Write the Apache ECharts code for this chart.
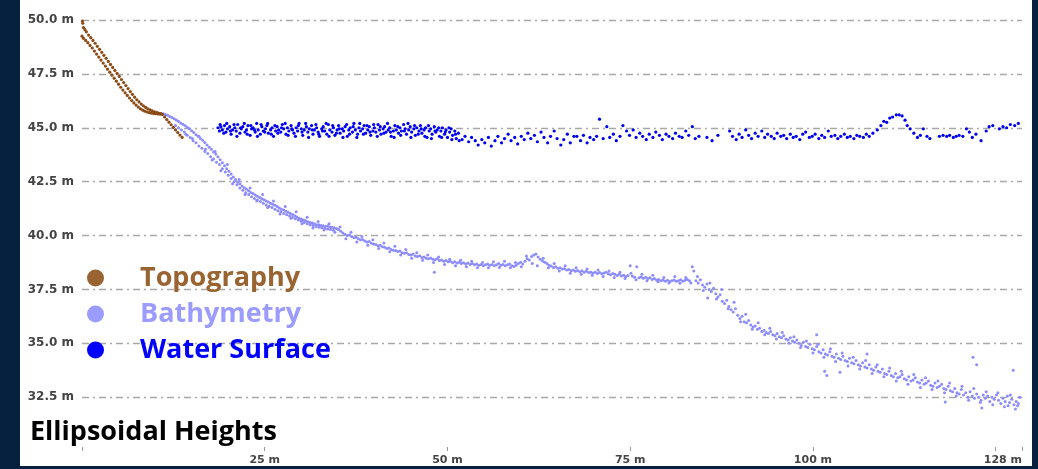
<!DOCTYPE html>
<html>
<head>
<meta charset="utf-8">
<title>Ellipsoidal Heights</title>
<script src="https://cdn.jsdelivr.net/npm/echarts@6/dist/echarts.min.js"></script>
<style>
  html, body { margin: 0; padding: 0; background: #05213f; width: 1038px; height: 469px; overflow: hidden; }
  #chartHeights { position: absolute; left: 20px; top: 0px; width: 1012px; height: 466px; background: #fff; }
</style>
</head>
<body>
<div id="chartHeights"></div>
<script>
// y ticks (m), x axis end (m)
var yTicks = [30, 32.5, 35, 37.5, 40, 42.5, 45, 47.5, 50]
var xEnd = 128.6

// topography, two passes down the bank + short tail
var topoA = [[0.05,49.95],[0.1,49.85],[0.2,49.65],[0.4,49.55],[0.6,49.45],[0.9,49.3],[1.2,49.18],[1.5,49.05],[1.8,48.92],[2.1,48.78],[2.4,48.64],[2.7,48.5],[3.0,48.36],[3.3,48.22],[3.6,48.08],[3.9,47.94],[4.2,47.8],[4.5,47.66],[4.8,47.52],[5.1,47.38],[5.4,47.24],[5.7,47.1],[6.0,46.96],[6.3,46.82],[6.6,46.68],[6.9,46.55],[7.2,46.42],[7.5,46.3],[7.8,46.2],[8.1,46.1],[8.4,46.02],[8.7,45.95],[9.0,45.88],[9.3,45.83],[9.6,45.78],[9.9,45.74],[10.2,45.71],[10.5,45.68],[10.8,45.66]]
var topoB = [[0.0,49.25],[0.2,49.15],[0.5,49.05],[0.8,48.95],[1.1,48.82],[1.4,48.7],[1.7,48.56],[2.0,48.42],[2.3,48.28],[2.6,48.14],[2.9,48.0],[3.2,47.86],[3.5,47.72],[3.8,47.58],[4.1,47.44],[4.4,47.3],[4.7,47.16],[5.0,47.02],[5.3,46.88],[5.6,46.75],[5.9,46.62],[6.2,46.5],[6.5,46.38],[6.8,46.26],[7.1,46.15],[7.4,46.05],[7.7,45.96],[8.0,45.88],[8.3,45.82],[8.6,45.77],[8.9,45.73],[9.2,45.7],[9.5,45.68],[9.8,45.66],[10.1,45.65],[10.4,45.64],[10.7,45.63],[11.0,45.62]]
var topoTail = [[11.3,45.5],[11.6,45.38],[11.9,45.26],[12.2,45.14],[12.5,45.02],[12.8,44.9],[13.1,44.78],[13.4,44.66],[13.7,44.55]]

// bathymetry
var bathyTrack1 = [[11.1,45.65],[11.4,45.62],[11.7,45.58],[12.0,45.52],[12.3,45.48],[12.6,45.42],[12.9,45.36],[13.2,45.3],[13.5,45.22],[13.8,45.16],[14.1,45.1],[14.4,45.02],[14.7,44.95],[15.0,44.86],[15.3,44.78],[15.6,44.68],[15.9,44.6],[16.2,44.5],[16.5,44.42],[16.8,44.32],[17.1,44.2],[17.4,44.1],[17.7,44.0],[18.0,43.88],[18.3,43.78],[18.6,43.66],[18.9,43.52],[19.2,43.38],[19.5,43.24],[19.8,43.1],[20.1,42.98],[20.4,42.85],[20.7,42.72],[21.0,42.6],[21.3,42.48],[21.6,42.4],[21.9,42.3],[22.2,42.22],[22.5,42.15],[22.8,42.08],[23.1,42.0],[23.4,41.95],[23.7,41.88],[24.0,41.82],[24.3,41.76],[24.6,41.7],[24.9,41.66],[25.2,41.6],[25.5,41.55],[25.8,41.5],[26.1,41.45],[26.4,41.4],[26.7,41.34],[27.0,41.28],[27.3,41.22],[27.6,41.18],[27.9,41.12],[28.2,41.08],[28.5,41.02],[28.8,40.98],[29.1,40.92],[29.4,40.86],[29.7,40.8],[30.0,40.76],[30.3,40.72],[30.6,40.68],[30.9,40.64],[31.2,40.6],[31.5,40.58],[31.8,40.54],[32.1,40.5],[32.4,40.5],[32.7,40.46],[33.0,40.45],[33.3,40.42],[33.6,40.44],[33.9,40.4],[34.2,40.38],[34.5,40.36],[34.8,40.32]]
var bathyTrack2 = [[12.8,45.1],[13.2,45.0],[13.6,44.9],[14.0,44.8],[14.4,44.65],[14.8,44.55],[15.2,44.4],[15.6,44.3],[16.0,44.15],[16.4,44.05],[16.8,43.9],[17.2,43.8],[17.6,43.65],[18.0,43.55],[18.4,43.4],[18.8,43.3],[19.2,43.1],[19.6,42.95],[20.0,42.8],[20.4,42.65],[20.8,42.5],[21.2,42.35],[21.6,42.2],[22.0,42.1],[22.4,41.98],[22.8,41.9],[23.2,41.8],[23.6,41.72],[24.0,41.65],[24.4,41.58],[24.8,41.5],[25.2,41.42],[25.6,41.36],[26.0,41.3],[26.4,41.22],[26.8,41.15],[27.2,41.1],[27.6,41.02],[28.0,40.96],[28.4,40.9],[28.8,40.84],[29.2,40.78],[29.6,40.72],[30.0,40.66],[30.4,40.6],[30.8,40.55],[31.2,40.5],[31.6,40.46],[32.0,40.42],[32.4,40.38],[32.8,40.36],[33.2,40.32],[33.6,40.3],[34.0,40.28],[34.4,40.24]]
var bathyMid = [[35.1,40.28],[35.4,40.2],[35.7,40.12],[36.0,40.05],[36.3,40.0],[36.6,40.02],[36.9,39.95],[37.2,39.9],[37.5,39.92],[37.8,39.85],[38.1,39.8],[38.4,39.82],[38.7,39.74],[39.0,39.7],[39.3,39.72],[39.6,39.64],[39.9,39.6],[40.2,39.58],[40.5,39.52],[40.8,39.55],[41.1,39.48],[41.4,39.45],[41.7,39.4],[42.0,39.42],[42.3,39.35],[42.6,39.32],[42.9,39.3],[43.2,39.26],[43.5,39.28],[43.8,39.2],[44.1,39.18],[44.4,39.2],[44.7,39.12],[45.0,39.1],[45.3,39.14],[45.6,39.05],[45.9,39.02],[46.2,39.06],[46.5,38.98],[46.8,39.0],[47.1,38.95],[47.4,38.92],[47.7,38.96],[48.0,38.9],[48.3,38.88],[48.6,38.92],[48.9,38.84],[49.2,38.86],[49.5,38.8],[49.8,38.84],[50.1,38.78],[50.4,38.8],[50.7,38.74],[51.0,38.78],[51.3,38.72],[51.6,38.76],[51.9,38.7],[52.2,38.74],[52.5,38.68],[52.8,38.72],[53.1,38.66],[53.4,38.7],[53.7,38.64],[54.0,38.68],[54.3,38.62],[54.6,38.66],[54.9,38.6],[55.2,38.64],[55.5,38.68],[55.8,38.62],[56.1,38.66],[56.4,38.6],[56.7,38.64],[57.0,38.7],[57.3,38.62],[57.6,38.66],[57.9,38.6],[58.2,38.64],[58.5,38.68],[58.8,38.6],[59.1,38.56],[59.4,38.62],[59.7,38.7],[60.0,38.76],[60.3,38.68],[60.6,38.8],[60.9,38.92],[61.2,38.86],[61.5,39.02],[61.8,39.1],[62.1,39.14],[62.4,39.0],[62.7,38.9],[63.0,38.82],[63.3,38.76],[63.6,38.7],[63.9,38.62],[64.2,38.58],[64.5,38.52],[64.8,38.55],[65.1,38.48],[65.4,38.5],[65.7,38.44],[66.0,38.46],[66.3,38.4],[66.6,38.42],[66.9,38.36],[67.2,38.4],[67.5,38.34],[67.8,38.38],[68.1,38.32],[68.4,38.36],[68.7,38.3],[69.0,38.34],[69.3,38.28],[69.6,38.3],[69.9,38.26],[70.2,38.3],[70.5,38.24],[70.8,38.28],[71.1,38.22],[71.4,38.26],[71.7,38.3],[72.0,38.22],[72.3,38.18],[72.6,38.24],[72.9,38.2],[73.2,38.14],[73.5,38.2],[73.8,38.12],[74.1,38.16],[74.4,38.1],[74.7,38.14],[75.0,38.6],[75.3,38.12],[75.6,38.06],[75.9,38.55],[76.2,38.04],[76.5,38.08],[76.8,38.02],[77.1,38.06],[77.4,38.0],[77.7,38.04],[78.0,37.96],[78.3,38.0],[78.6,37.93],[78.9,37.96],[79.2,37.9],[79.5,37.94],[79.8,37.88],[80.1,37.92],[80.4,37.86],[80.7,37.9],[81.0,37.94],[81.3,37.88],[81.6,37.9],[81.9,37.95],[82.2,37.88],[82.5,37.92],[82.8,37.96],[83.1,37.9]]
var bathyDrop = [[83.5,38.55],[83.7,38.35],[84.0,37.9],[84.3,37.8],[84.6,37.95],[84.9,37.7],[85.2,37.6],[85.5,37.75],[85.8,37.5],[86.1,37.4],[86.4,37.55],[86.7,37.3],[87.0,37.15],[87.3,37.25],[87.6,36.95],[87.9,36.85],[88.2,37.0],[88.5,36.7],[88.8,36.55],[89.1,36.45],[89.4,36.6],[89.7,36.3],[90.0,36.15],[90.3,36.25],[90.6,36.0],[90.9,35.95],[91.2,36.05],[91.5,35.85],[91.8,35.75],[92.1,35.8],[92.4,35.65],[92.7,35.7],[93.0,35.55],[93.3,35.6],[93.6,35.5],[93.9,35.45],[94.2,35.55],[94.5,35.4],[94.8,35.35],[95.1,35.45],[95.4,35.3],[95.7,35.25],[96.0,35.35],[96.3,35.2],[96.6,35.15],[96.9,35.25],[97.2,35.1],[97.5,35.05],[97.8,35.15],[98.1,35.0],[98.4,34.9],[98.7,35.05],[99.0,34.85],[99.3,34.8],[99.6,34.95],[99.9,34.75],[100.2,34.7],[100.5,34.85],[100.8,34.6],[101.1,34.55],[101.4,34.7],[101.7,34.5],[102.0,34.45],[102.3,34.6],[102.6,34.4],[102.9,34.35],[103.2,34.5],[103.5,34.3],[103.8,34.25],[104.1,34.4],[104.4,34.2],[104.7,34.15],[105.0,34.3],[105.3,34.1],[105.6,34.05],[105.9,34.2],[106.2,34.0],[106.5,33.95],[106.8,34.1],[107.1,33.9],[107.4,33.85],[107.7,34.0],[108.0,33.8],[108.3,33.75],[108.6,33.9],[108.9,33.7],[109.2,33.65],[109.5,33.8],[109.8,33.6],[110.1,33.55],[110.4,33.7],[110.7,33.5],[111.0,33.45],[111.3,33.6],[111.6,33.4],[111.9,33.45],[112.2,33.55],[112.5,33.35],[112.8,33.3],[113.1,33.45],[113.4,33.25],[113.7,33.3],[114.0,33.4],[114.3,33.2],[114.6,33.15],[114.9,33.3],[115.2,33.1],[115.5,33.15],[115.8,33.25],[116.1,33.05],[116.4,33.0],[116.7,33.15],[117.0,32.95],[117.3,33.0],[117.6,33.1],[117.9,32.9],[118.2,32.85],[118.5,33.0],[118.8,32.8],[119.1,32.75],[119.4,32.9],[119.7,32.7],[120.0,32.65],[120.3,32.85],[120.6,32.6],[120.9,32.7],[121.2,32.5],[121.5,32.75],[121.8,32.55],[122.1,32.45],[122.4,32.65],[122.7,32.5],[123.0,32.35],[123.3,32.6],[123.6,32.45],[123.9,32.55],[124.2,32.3],[124.5,32.5],[124.8,32.4],[125.1,32.6],[125.4,32.35],[125.7,32.2],[126.0,32.45],[126.3,32.3],[126.6,32.55],[126.9,32.25],[127.2,32.4],[127.5,32.15],[127.8,32.3],[128.1,32.2]]
var bathySpread = [[14.2,44.7],[15.1,44.5],[16.0,44.6],[16.9,44.0],[17.8,43.5],[18.2,43.9],[19.0,43.0],[19.9,43.3],[20.6,42.4],[21.5,42.6],[22.3,41.9],[23.0,42.2],[23.9,41.6],[24.7,41.9],[25.4,41.3],[26.2,41.6],[27.1,41.0],[27.8,41.35],[28.6,40.8],[29.3,41.1],[30.1,40.55],[30.8,40.85],[31.6,40.35],[32.3,40.65],[33.1,40.25],[33.8,40.55],[34.6,40.15],[35.3,40.4],[36.1,39.85],[36.8,40.15],[37.6,39.7],[38.3,39.95],[39.1,39.55],[39.8,39.8],[40.6,39.4],[41.3,39.65],[42.1,39.25],[42.8,39.5],[43.6,39.1],[44.3,39.35],[45.1,38.95],[45.8,39.2],[46.6,38.85],[47.3,39.1],[48.1,38.75],[48.8,39.0],[49.6,38.65],[50.3,38.9],[51.1,38.6],[51.8,38.85],[52.6,38.55],[53.3,38.8],[54.1,38.5],[54.8,38.75],[55.6,38.5],[56.3,38.78],[57.1,38.52],[57.8,38.8],[58.6,38.5],[59.3,38.75],[60.1,38.55],[60.8,39.05],[61.6,38.7],[62.3,38.6],[63.1,38.95],[63.8,38.5],[64.6,38.7],[65.3,38.35],[66.1,38.6],[66.8,38.25],[67.6,38.5],[68.3,38.2],[69.1,38.45],[69.8,38.15],[70.6,38.4],[71.3,38.1],[72.1,38.35],[72.8,38.05],[73.6,38.3],[74.3,38.0],[75.1,38.25],[75.8,37.95],[76.6,38.2],[77.3,37.9],[78.1,38.15],[78.8,37.85],[79.6,38.05],[80.3,37.8],[81.1,38.1],[81.8,37.78],[82.6,38.05],[83.3,37.8],[84.2,38.1],[85.0,37.45],[85.9,37.8],[86.8,37.05],[87.5,37.5],[88.4,36.6],[89.2,36.9],[90.1,36.0],[90.8,36.35],[91.7,35.65],[92.5,35.95],[93.4,35.4],[94.1,35.7],[95.0,35.2],[95.8,35.5],[96.7,35.0],[97.4,35.3],[98.3,34.8],[99.1,35.1],[100.0,34.55],[100.7,34.95],[101.5,34.35],[102.4,34.75],[103.1,34.15],[104.0,34.55],[104.8,33.95],[105.5,34.35],[106.4,33.8],[107.2,34.2],[108.1,33.6],[108.8,34.0],[109.7,33.45],[110.5,33.85],[111.4,33.25],[112.1,33.7],[113.0,33.1],[113.8,33.55],[114.7,32.95],[115.4,33.4],[116.3,32.85],[117.1,33.25],[118.0,32.7],[118.7,33.15],[119.6,32.55],[120.4,33.0],[121.3,32.35],[122.0,32.9],[122.9,32.25],[123.7,32.75],[124.6,32.15],[125.3,32.7],[126.2,32.05],[127.0,32.6],[127.7,31.95],[128.3,32.5]]
var bathyOutliers = [[48.2,38.3],[85.6,37.1],[100.5,35.4],[101.6,33.7],[101.9,33.5],[103.7,33.65],[107.4,34.5],[118.1,32.27],[121.9,34.35],[122.4,34.0],[123.1,32.0],[126.7,32.1],[127.4,33.75],[128.0,32.1]]

// water surface
var waterDense = [[18.6,45.0],[18.8,44.85],[19.0,45.05],[19.2,44.9],[19.5,45.1],[19.7,44.8],[19.9,44.95],[20.2,45.05],[20.4,44.7],[20.6,44.9],[20.9,45.0],[21.1,44.85],[21.3,45.15],[21.6,44.75],[21.8,44.95],[22.0,45.05],[22.3,44.8],[22.5,44.9],[22.7,45.1],[23.0,44.65],[23.2,44.95],[23.4,45.0],[23.7,44.8],[23.9,45.2],[24.1,44.9],[24.4,44.7],[24.6,45.05],[24.8,44.85],[25.1,44.95],[25.3,45.1],[25.5,44.75],[25.8,44.9],[26.0,45.0],[26.2,44.6],[26.5,44.85],[26.7,45.05],[26.9,44.9],[27.2,44.8],[27.4,45.15],[27.6,44.95],[27.9,44.7],[28.1,45.0],[28.3,44.85],[28.6,45.1],[28.8,44.9],[29.0,44.75],[29.3,45.0],[29.5,44.85],[29.7,45.2],[30.0,44.95],[30.2,44.65],[30.4,44.9],[30.7,45.05],[30.9,44.8],[31.1,44.95],[31.4,45.1],[31.6,44.7],[31.8,44.9],[32.1,45.0],[32.3,44.8],[32.5,44.6],[32.8,44.95],[33.0,45.05],[33.2,44.85],[33.5,44.7],[33.7,45.15],[33.9,44.9],[34.2,44.8],[34.4,45.0],[34.6,44.65],[34.9,44.9],[35.1,45.1],[35.3,44.75],[35.6,44.95],[35.8,44.85],[36.0,45.05],[36.3,44.6],[36.5,44.9],[36.7,45.0],[37.0,44.8],[37.2,45.2],[37.4,44.9],[37.7,44.7],[37.9,45.0],[38.1,44.85],[38.4,44.95],[38.6,45.1],[38.8,44.75],[39.1,44.9],[39.3,45.05],[39.5,44.65],[39.8,44.85],[40.0,45.0],[40.2,44.8],[40.5,45.15],[40.7,44.9],[40.9,44.7],[41.2,44.95],[41.4,45.05],[41.6,44.8],[41.9,44.9],[42.1,45.0],[42.3,44.6],[42.6,44.85],[42.8,45.1],[43.0,44.9],[43.3,44.75],[43.5,45.0],[43.7,44.85],[44.0,45.15],[44.2,44.95],[44.4,44.7],[44.7,44.9],[44.9,45.05],[45.1,44.8],[45.4,44.95],[45.6,44.65],[45.8,45.0],[46.1,44.85],[46.3,45.1],[46.5,44.75],[46.8,44.9],[47.0,45.0],[47.2,44.55],[47.5,44.85],[47.7,44.95],[47.9,44.7],[48.2,45.05],[48.4,44.8],[48.6,44.9],[48.9,44.6],[49.1,44.85],[49.3,45.0],[49.6,44.7],[49.8,44.9],[50.0,44.55],[50.3,44.8],[50.5,44.95],[50.7,44.65],[51.0,44.85],[51.2,44.5],[51.5,44.75]]
var waterDense2 = [[18.9,45.15],[19.4,44.75],[19.8,45.2],[20.3,44.85],[20.8,45.15],[21.2,44.6],[21.7,45.0],[22.2,45.2],[22.6,44.7],[23.1,45.1],[23.6,44.9],[24.0,44.6],[24.5,45.15],[25.0,44.8],[25.4,45.2],[25.9,44.7],[26.4,45.1],[26.8,44.75],[27.3,45.0],[27.8,45.2],[28.2,44.65],[28.7,44.95],[29.2,44.6],[29.6,45.1],[30.1,44.8],[30.6,45.2],[31.0,44.55],[31.5,44.9],[32.0,45.15],[32.4,44.7],[32.9,44.85],[33.4,45.2],[33.8,44.6],[34.3,45.1],[34.8,44.75],[35.2,44.95],[35.7,44.55],[36.2,45.15],[36.6,44.7],[37.1,45.05],[37.6,44.55],[38.0,45.2],[38.5,44.7],[39.0,45.1],[39.4,44.8],[39.9,45.15],[40.4,44.6],[40.8,45.05],[41.3,44.75],[41.8,45.2],[42.2,44.8],[42.7,44.55],[43.2,45.05],[43.6,44.65],[44.1,44.85],[44.6,45.2],[45.0,44.55],[45.5,45.1],[46.0,44.7],[46.4,44.95],[46.9,44.6],[47.4,45.1],[47.8,44.5],[48.3,44.85],[48.8,45.0],[49.2,44.55],[49.7,44.8],[50.2,45.0],[50.6,44.45],[51.1,44.7],[51.6,44.4]]
var waterSparse = [[52.0,44.45],[52.4,44.6],[52.9,44.35],[53.3,44.55],[53.8,44.4],[54.2,44.2],[54.7,44.45],[55.1,44.3],[55.6,44.55],[56.0,44.15],[56.5,44.4],[56.9,44.6],[57.4,44.3],[57.8,44.5],[58.3,44.7],[58.7,44.4],[59.2,44.55],[59.6,44.25],[60.1,44.6],[60.5,44.45],[61.0,44.75],[61.4,44.5],[61.9,44.65],[62.3,44.35],[62.8,44.8],[63.2,44.55],[63.7,44.3],[64.1,44.6],[64.6,44.85],[65.0,44.5],[65.5,44.2],[65.9,44.45],[66.4,44.7],[66.8,44.3],[67.3,44.6],[67.7,44.6],[68.2,44.4],[68.6,44.65],[69.1,44.3],[69.5,44.55],[70.0,44.45],[70.4,44.6],[70.8,45.4],[71.3,44.5],[71.8,45.05],[72.2,44.55],[72.7,44.7],[73.1,44.4],[73.6,44.6],[74.0,45.1],[74.5,44.85],[74.9,44.65],[75.4,44.9],[75.8,44.55],[76.3,44.75],[76.7,44.6],[77.2,44.45],[77.6,44.7],[78.1,44.55],[78.5,44.8],[79.0,44.65],[79.4,44.45],[79.9,44.7],[80.3,44.6],[80.8,44.5],[81.2,44.75],[81.7,44.6],[82.1,44.55],[82.6,44.85],[83.0,44.65],[83.5,45.05],[83.9,44.5],[84.4,44.6],[85.5,44.55],[86.2,44.4],[87.0,44.65],[88.6,44.85],[89.0,44.6],[89.5,44.45],[89.9,44.7],[90.3,44.55],[90.8,44.9],[91.2,44.65],[91.6,44.5],[92.1,44.75],[92.5,44.6],[93.0,44.85],[93.4,44.55],[93.8,44.7],[94.3,44.6],[94.7,44.5],[95.1,44.75],[95.6,44.6],[96.0,44.65],[96.4,44.5],[96.9,44.7],[97.3,44.55],[97.7,44.6],[98.2,44.45],[98.6,44.7],[99.0,44.8],[99.5,44.55],[99.9,44.6],[100.3,44.7],[100.8,44.5],[101.2,44.65],[101.6,44.55],[102.1,44.85],[102.5,44.6],[103.0,44.65],[103.4,44.5],[103.8,44.6],[104.3,44.7],[104.7,44.55],[105.1,44.6],[105.6,44.5],[106.0,44.65],[106.4,44.6],[106.9,44.55],[107.3,44.7],[107.7,44.6],[108.2,44.75],[108.8,44.9],[109.3,45.1],[109.7,45.3],[110.1,45.25],[110.5,45.45],[110.9,45.5],[111.4,45.6],[111.8,45.6],[112.2,45.55],[112.6,45.35],[112.9,45.1],[113.3,44.95],[113.8,44.75],[114.3,44.55],[114.7,44.65],[115.1,44.95],[115.6,44.6],[116.0,44.5],[117.3,44.6],[117.8,44.65],[118.3,44.6],[118.7,44.65],[119.2,44.55],[119.6,44.6],[120.0,44.65],[120.5,44.6],[121.0,44.95],[121.4,44.8],[121.8,44.55],[122.3,44.7],[123.0,44.4],[123.7,44.85],[124.1,45.05],[124.6,45.1],[125.5,44.95],[126.0,45.05],[126.5,45.0],[127.0,45.15],[127.6,45.1],[128.1,45.2]]

var colTopo = '#8b4a16'
var colBathy = '#8c8cff'
var colWater = '#0000f0'

var myChart = echarts.init(document.getElementById('chartHeights'))
myChart.setOption({
  animation: false,
  title: {
    text: 'Ellipsoidal Heights',
    left: 10,
    top: 419,
    padding: 0,
    textStyle: { fontFamily: 'Open Sans', fontWeight: 'bold', fontSize: 27, color: '#000' }
  },
  legend: {
    orient: 'vertical',
    left: 62,
    top: 258,
    icon: 'circle',
    itemWidth: 17,
    itemHeight: 17,
    itemGap: 6,
    selectedMode: false,
    textStyle: { fontFamily: 'Open Sans', fontWeight: 'bold', fontSize: 27, lineHeight: 30, padding: [0, 0, 0, 31] },
    data: [
      { name: 'Topography', itemStyle: { color: '#9a6432', opacity: 1 }, textStyle: { color: '#9a6432' } },
      { name: 'Bathymetry', itemStyle: { color: '#9c9cff', opacity: 1 }, textStyle: { color: '#9c9cff' } },
      { name: 'Water Surface', itemStyle: { color: '#0000ff', opacity: 1 }, textStyle: { color: '#0000ff' } }
    ]
  },
  grid: { left: 62, right: 10, top: 20, bottom: 14 },
  xAxis: {
    type: 'value',
    min: 0,
    max: xEnd,
    interval: 25,
    axisLine: { show: false },
    axisTick: { show: true, inside: true, length: 4, lineStyle: { color: '#999' } },
    splitLine: { show: false },
    axisLabel: {
      margin: 4,
      fontFamily: 'DejaVu Sans',
      fontWeight: 'bold',
      fontSize: 11,
      color: '#444',
      alignMaxLabel: 'right',
      formatter: function (v) {
        if (v === 0 || v === 125) return ''
        if (v === xEnd) return '128 m'
        return v + ' m'
      }
    }
  },
  yAxis: {
    type: 'value',
    min: yTicks[0],
    max: yTicks[yTicks.length - 1],
    interval: 2.5,
    axisLine: { show: false },
    axisTick: { show: false },
    axisLabel: {
      margin: 8,
      showMinLabel: false,
      fontFamily: 'DejaVu Sans',
      fontWeight: 'bold',
      fontSize: 12,
      color: '#444',
      formatter: function (v) { return v.toFixed(1) + ' m' }
    },
    splitLine: { show: true, showMinLine: false, lineStyle: { color: '#a8a8a8', width: 1.4, type: [7, 4, 2, 4] } }
  },
  series: [
    {
      name: 'Bathymetry',
      type: 'scatter',
      symbolSize: 3,
      itemStyle: { color: colBathy, opacity: 1 },
      data: bathyTrack1.concat(bathyTrack2, bathyMid, bathyDrop, bathySpread, bathyOutliers)
    },
    {
      name: 'Topography',
      type: 'scatter',
      symbolSize: 3.2,
      itemStyle: { color: colTopo, opacity: 1 },
      data: topoA.concat(topoB, topoTail)
    },
    {
      name: 'Water Surface',
      type: 'scatter',
      symbolSize: 3.2,
      itemStyle: { color: colWater, opacity: 1 },
      data: waterDense.concat(waterDense2, waterSparse)
    }
  ]
})
</script>
</body>
</html>
